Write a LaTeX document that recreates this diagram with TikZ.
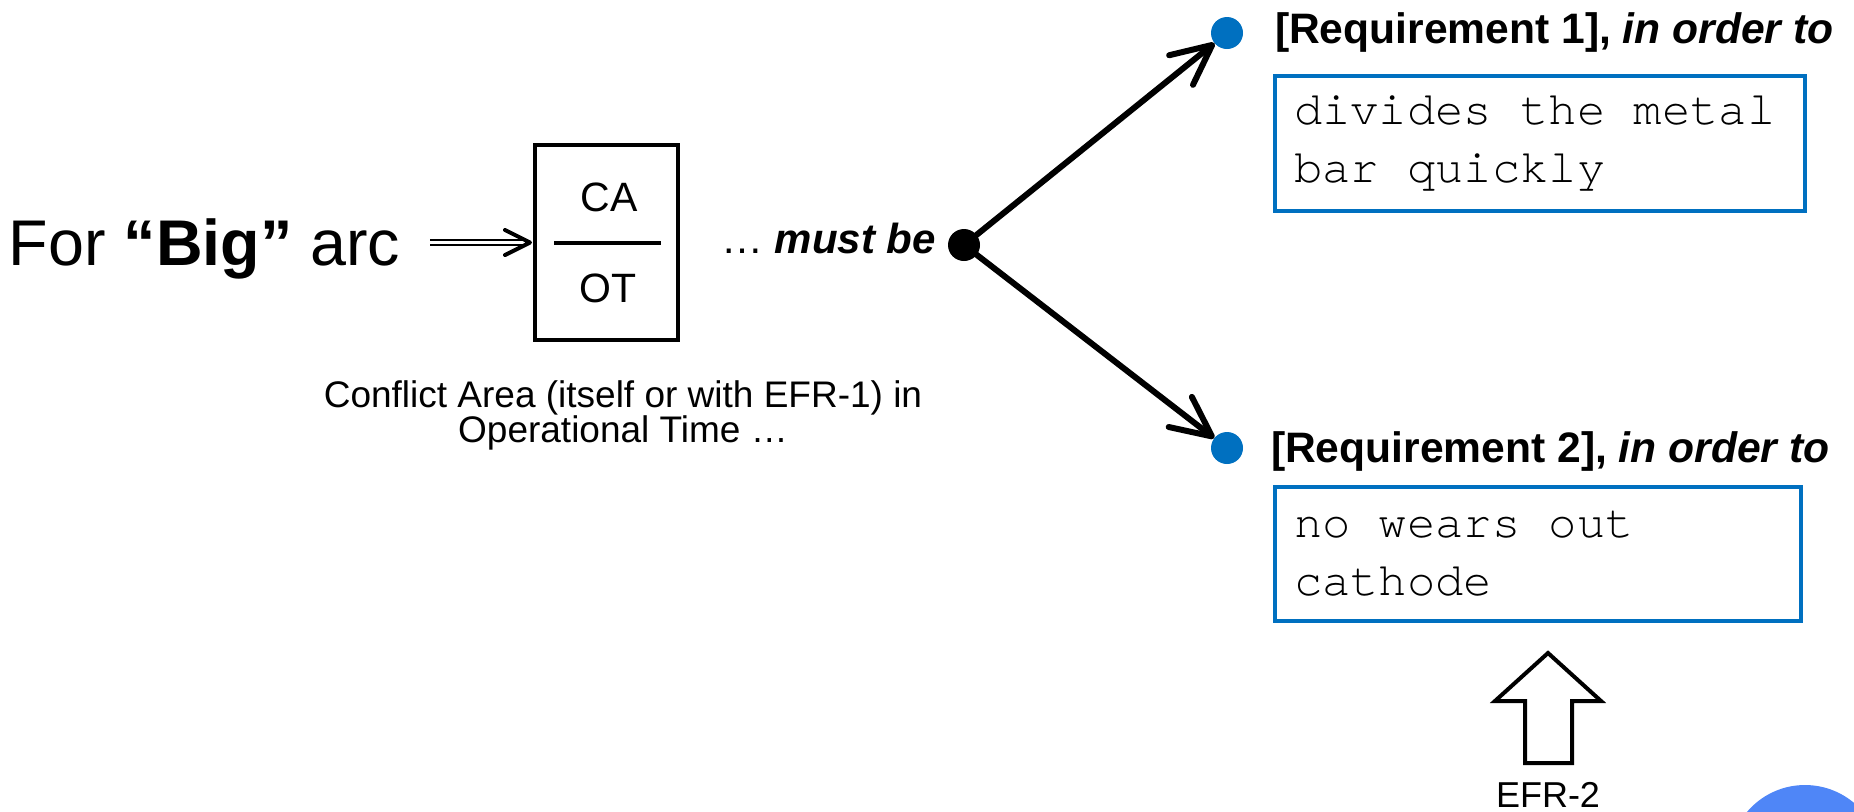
\documentclass[tikz,border=0pt]{standalone}
\usepackage{fontspec}
\setmainfont{Liberation Sans}
\setmonofont{texgyrecursor-regular.otf}
\usetikzlibrary{arrows.meta}
\definecolor{reqblue}{RGB}{0,112,192}
\definecolor{circblue}{RGB}{79,134,247}
\newcommand{\msp}{\hspace*{0.6em}}
\begin{document}
\begin{tikzpicture}[x=0.5pt,y=-0.5pt,
  lbl/.style={inner sep=0pt, outer sep=0pt},
  reqbox/.style={draw=reqblue, line width=2pt, inner xsep=9.5pt, inner ysep=0pt, outer sep=0pt,
    align=left, font=\ttfamily\fontsize{23.6}{29}\selectfont},
  reqdot/.style={circle, fill=reqblue, minimum size=16pt, inner sep=0pt, outer sep=0pt},
  hubdot/.style={circle, fill=black, minimum size=16pt, inner sep=0pt, outer sep=0pt},
  bigarrow/.style={line width=3pt, -{Straight Barb[length=20pt,width=19pt,round]}},
  reqlabel/.style={lbl, anchor=base west, font=\bfseries\fontsize{21.3}{25}\selectfont},
  dblline/.style={line width=0.9pt, double distance=1.8pt},
  headline/.style={line width=2pt, line cap=round, line join=round},
  boxfont/.style={font=\fontsize{20.5}{24}\selectfont},
]
\useasboundingbox (0,0) rectangle (1854,811);
\clip (0,0) rectangle (1854,811);

% left title
\node[lbl, anchor=base west, font=\fontsize{32.3}{38}\selectfont] (title) at (9,265) {For \textbf{“Big”} arc};

% CA / OT box
\node[draw, line width=2pt, minimum width=71.5pt, minimum height=97.5pt, inner sep=0pt, outer sep=0pt] (box) at (606.5,242.5) {};
\node[lbl, boxfont] (ca) at (609,197) {CA};
\node[lbl, boxfont] (ot) at (608,288) {OT};
\draw[line width=2pt] ([shift={(-52.5,0)}]box.center) -- ([shift={(54.5,0)}]box.center);

% double arrow into box
\draw[dblline, shorten <=15pt, shorten >=4pt] (title.east |- box.west) -- (box.west);
\draw[headline] ([shift={(-30,-12.5)}]box.west) -- ([shift={(-5,0)}]box.west) -- ([shift={(-30,12.5)}]box.west);

% caption
\node[lbl, align=center, font=\fontsize{18.5}{17.5}\selectfont] (cap) at (623,415) {Conflict Area (itself or with EFR-1) in\\Operational Time …};

% must be
\node[lbl, anchor=base west, font=\fontsize{21}{25}\selectfont] (must) at (721,253) {… \textbf{\textit{must be}}};

% dots and arrows
\node[hubdot] (hub) at (964,245) {};
\node[reqdot] (r1) at (1227,33) {};
\node[reqdot] (r2) at (1227,448) {};
\draw[bigarrow] (hub.center) -- (r1);
\draw[bigarrow] (hub.center) -- (r2);

% requirements
\node[reqlabel] (q1) at (1275,43) {[Requirement 1], \textit{in order to}};
\node[reqlabel] (q2) at (1271,462) {[Requirement 2], \textit{in order to}};
\node[reqbox, text width=246pt, minimum height=67.5pt] (t1) at (1540,143.5) {divides\msp the\msp metal\\bar\msp quickly};
\node[reqbox, text width=244pt, minimum height=67pt] (t2) at (1538,554) {no\msp wears\msp out\\cathode};

% hollow arrow EFR-2
\draw[line width=2pt, line join=miter] (1548,653) -- (1601,701) -- (1572,701) -- (1572,763) -- (1525,763) -- (1525,701) -- (1495,701) -- cycle;
\node[lbl, anchor=base, font=\fontsize{18}{22}\selectfont] (efr) at (1548,807) {EFR-2};

% corner circle
\fill[circblue] (1805,861) circle[radius=76];
\end{tikzpicture}
\end{document}
